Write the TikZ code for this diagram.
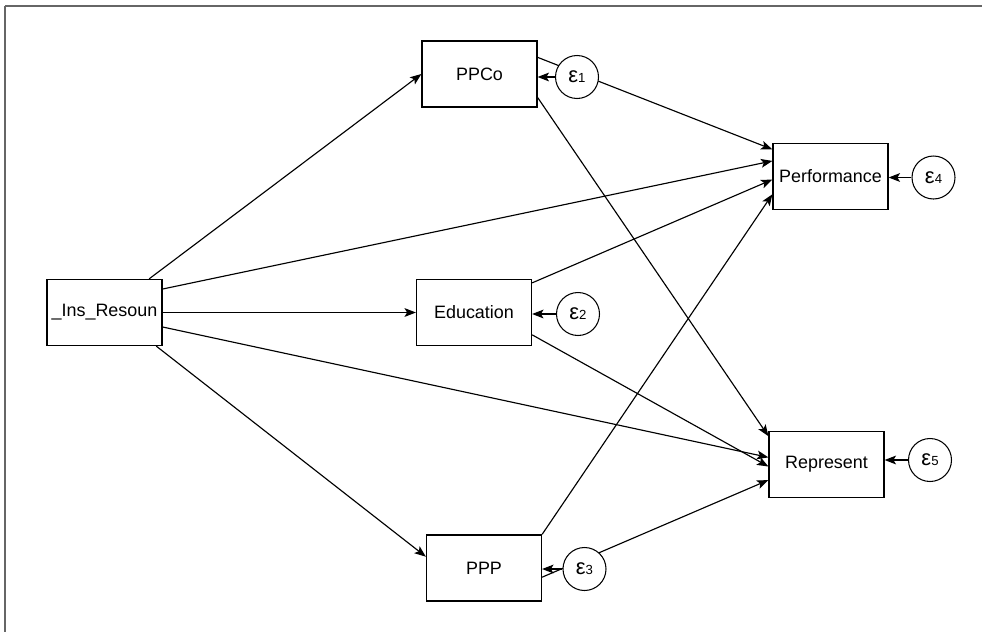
\documentclass[tikz,border=0pt]{standalone}
\usepackage{fontspec}
\setmainfont{Liberation Sans}
\usetikzlibrary{arrows.meta}
\usetikzlibrary{calc}

\newcommand{\errlab}[1]{{\fontsize{12.5}{13}\selectfont ε}{\fontsize{7.5}{8}\selectfont #1}}

\begin{document}
\begin{tikzpicture}[x=0.02cm, y=-0.02cm,
  var/.style={draw, line width=0.7pt, minimum width=2.3cm, minimum height=1.32cm,
    inner sep=0pt, font=\fontsize{10.2}{12}\selectfont},
  err/.style={draw, circle, fill=white, line width=0.6pt, minimum size=0.86cm, inner sep=0pt},
  sem/.style={-{Stealth[length=6.5pt,width=5pt,inset=1.5pt]}, line width=0.65pt}]

\useasboundingbox (0,0) rectangle (982,632);
\draw[line width=1.2pt, black!60] (5,6) -- (982,6);
\draw[line width=1.2pt, black!60] (5,6) -- (5,632);

% observed variables
\node[var] (ins) at (104.5,312.5) {\_Ins\_Resoun};
\node[var] (ppco) at (479.5,74) {PPCo};
\node[var] (edu) at (474,312.5) {Education};
\node[var] (ppp) at (484,568) {PPP};
\node[var] (perf) at (830.5,176.5) {Performance};
\node[var] (rep) at (826.5,464.5) {Represent};

% paths
\draw[sem] (ins.37.6) -- (ppco.west);
\draw[sem] (ins.22) -- (perf.165.8);
\draw[sem] (ins.east) -- (edu.west);
\draw[sem] (ins.-14) -- (rep.173);
\draw[sem] (ins.-33.6) -- (ppp.169);
\draw[sem] (ppco.16) -- (perf.155.3);
\draw[sem] (ppco.-22) -- (rep.154);
\draw[sem] (edu.27) -- (perf.183.5);
\draw[sem] (edu.-21.5) -- (rep.182.5);
\draw[sem] (ppp.north east) -- (perf.197.8);
\draw[sem] (ppp.-9) -- (rep.195);

% errors
\node[err] (e1) at (577,77) {\errlab{1}};
\node[err] (e2) at (578,314) {\errlab{2}};
\node[err] (e3) at (584.5,569) {\errlab{3}};
\node[err] (e4) at (933.5,177.5) {\errlab{4}};
\node[err] (e5) at (930,460) {\errlab{5}};

\draw[sem] (e1) -- (e1 -| ppco.east);
\draw[sem] (e2) -- (e2 -| edu.east);
\draw[sem] (e3) -- (e3 -| ppp.east);
\draw[sem] (e4) -- (e4 -| perf.east);
\draw[sem] (e5) -- (e5 -| rep.east);
\end{tikzpicture}
\end{document}
